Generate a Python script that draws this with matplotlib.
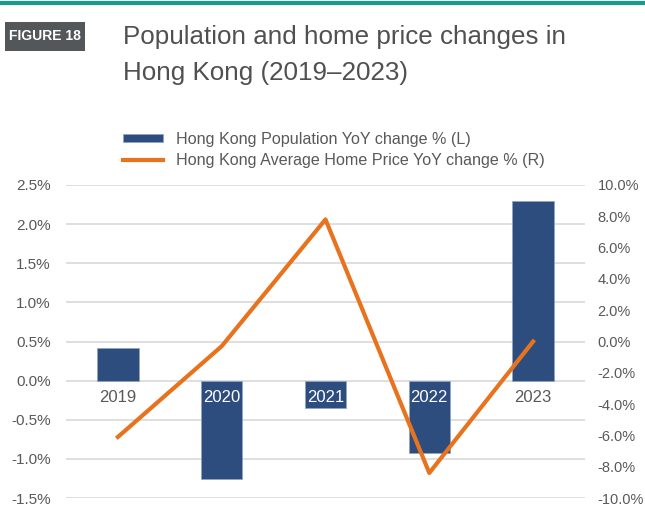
import matplotlib.pyplot as plt
from matplotlib.ticker import FuncFormatter
from matplotlib.patches import Rectangle
import numpy as np

# chart values
years = ["2019", "2020", "2021", "2022", "2023"]
population_yoy = [0.42, -1.26, -0.35, -0.93, 2.30]    # % (left axis)
home_price_yoy = [-6.1, -0.3, 7.8, -8.4, 0.0]          # % (right axis)

BAR_BLUE = "#2e4d7f"
LINE_ORANGE = "#e8731e"
TEXT_GREY = "#595959"
GRID_GREY = "#d9d9d9"

plt.rcParams['font.family'] = ['Liberation Sans', 'DejaVu Sans']

W, H = 645, 508
fig = plt.figure(figsize=(W / 100, H / 100), dpi=100)


def px_axes(x0, y0, x1, y1):
    # axes rectangle given in pixel coords (top-left origin)
    return [x0 / W, 1 - y1 / H, (x1 - x0) / W, (y1 - y0) / H]


# header: teal rule, figure tag, title
fig.add_artist(plt.Line2D([0, 1], [1 - 3 / H, 1 - 3 / H], color="#17998f", lw=3,
                          transform=fig.transFigure))
fig.add_artist(Rectangle((5 / W, 1 - 51 / H), 80 / W, 29 / H, transform=fig.transFigure,
                         facecolor="#545759", edgecolor="none"))
fig.text(45 / W, 1 - 36.5 / H, "FIGURE 18", color="white", fontsize=10, fontweight="bold",
         ha="center", va="center")
fig.text(123 / W, 1 - 37 / H, "Population and home price changes in", color="#505050",
         fontsize=18.7, ha="left", va="center")
fig.text(123 / W, 1 - 73 / H, "Hong Kong (2019\u20132023)", color="#505050",
         fontsize=18.7, ha="left", va="center")

ax = fig.add_axes(px_axes(66, 185, 585, 498))
x = np.arange(len(years))

ax.bar(x, population_yoy, width=0.4, color=BAR_BLUE, edgecolor="#8fa3c0", linewidth=0.6,
       zorder=2, label="Hong Kong Population YoY change % (L)")
ax.set_xlim(-0.5, len(years) - 0.5)
ax.set_ylim(-1.5, 2.5)
ax.set_yticks(np.arange(-1.5, 2.51, 0.5))
ax.yaxis.set_major_formatter(FuncFormatter(lambda v, _: f"{v:.1f}%"))
ax.grid(axis="y", color=GRID_GREY, lw=1.2, zorder=0)
ax.set_xticks([])
for s in ax.spines.values():
    s.set_visible(False)
ax.tick_params(axis="y", length=0, pad=11, labelsize=11, labelcolor=TEXT_GREY)

# year labels sit just under the zero line, white where a bar lies behind them
for xi, yr, v in zip(x, years, population_yoy):
    ax.text(xi, -0.21, yr, ha="center", va="center", fontsize=12,
            color="white" if v < 0 else TEXT_GREY, zorder=4)

ax2 = ax.twinx()
ax2.plot(x, home_price_yoy, color=LINE_ORANGE, lw=3, zorder=3,
         label="Hong Kong Average Home Price YoY change % (R)")
ax2.set_ylim(-10, 10)
ax2.set_yticks(np.arange(-10, 10.1, 2))
ax2.yaxis.set_major_formatter(FuncFormatter(lambda v, _: f"{v:.1f}%"))
for s in ax2.spines.values():
    s.set_visible(False)
ax2.tick_params(axis="y", length=0, pad=9, labelsize=10.5, labelcolor=TEXT_GREY)

h1, l1 = ax.get_legend_handles_labels()
h2, l2 = ax2.get_legend_handles_labels()
fig.legend(h1 + h2, l1 + l2, loc="upper left", bbox_to_anchor=(115 / W, 1 - 124 / H),
           frameon=False, fontsize=11.6, labelcolor=TEXT_GREY, handlelength=2.5,
           handleheight=0.4, labelspacing=0.35, borderpad=0, handletextpad=0.8)

fig.savefig("out.png", dpi=100)
